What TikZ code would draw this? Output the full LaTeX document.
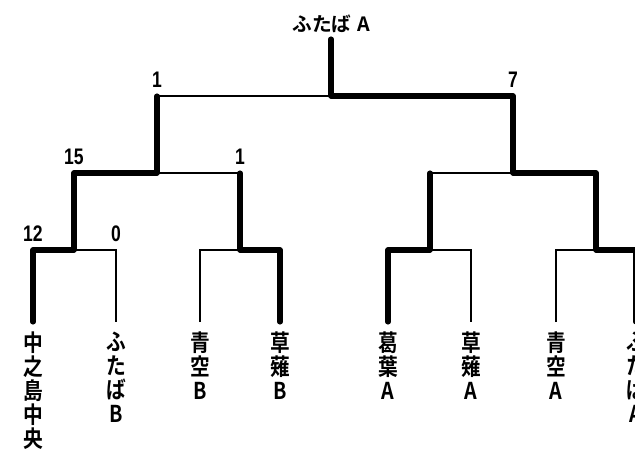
\documentclass[tikz,border=0pt]{standalone}
\usepackage{fontspec}
\usepackage{tikz}
\usetikzlibrary{positioning}
\newfontfamily\jpfont[FakeStretch=0.85]{Noto Sans CJK JP Bold}
\newfontfamily\jptitle{Noto Sans CJK JP Bold}
\newfontfamily\numfont[FakeStretch=0.78]{Liberation Sans Bold}

\begin{document}
\begin{tikzpicture}[x=0.025cm, y=-0.025cm,
                    win/.style={line width=3.6pt, line cap=round, line join=round},
                    lose/.style={line width=1.1pt},
                    team/.style={inner sep=0pt, align=center, font=\jpfont\fontsize{16.5}{17}\selectfont},
                    score/.style={inner sep=0pt, font=\numfont\fontsize{16}{16}\selectfont}]
                    \useasboundingbox (0,0) rectangle (635,451);
                    % leaf corners and ends
                    \foreach \i/\x in {1/33, 2/116, 3/200, 4/280, 5/388, 6/471, 7/556, 8/636} {
                        \coordinate (c\i) at (\x,250);
                        \coordinate (e\i) at (\x,322);
                    }
                    \coordinate (m1) at (74,250);
                    \coordinate (m2) at (240,250);
                    \coordinate (m3) at (430,250);
                    \coordinate (m4) at (596,250);
                    \coordinate (d1) at (74,173);
                    \coordinate (d2) at (240,173);
                    \coordinate (d3) at (430,173);
                    \coordinate (d4) at (596,173);
                    \coordinate (n1) at (157,173);
                    \coordinate (n2) at (513,173);
                    \coordinate (g1) at (157,96);
                    \coordinate (g2) at (513,96);
                    \coordinate (f) at (331,96);
                    \coordinate (top) at (331,39);
                    % teams
                    \node[team, below=7pt of e1] (t1) {中\\之\\島\\中\\央};
                    \node[team, below=7pt of e2] (t2) {ふ\\た\\ば\\B};
                    \node[team, below=7pt of e3] (t3) {青\\空\\B};
                    \node[team, below=7pt of e4] (t4) {草\\薙\\B};
                    \node[team, below=7pt of e5] (t5) {葛\\葉\\A};
                    \node[team, below=7pt of e6] (t6) {草\\薙\\A};
                    \node[team, below=7pt of e7] (t7) {青\\空\\A};
                    \node[team, below=7pt of e8] (t8) {ふ\\た\\ば\\A};
                    \node[inner sep=0pt, above=4pt of top, font=\jptitle\fontsize{14}{16}\selectfont] (champ) {ふたば\hspace{4pt}A};
                    % first round
                    \draw[lose] (m1) -- (c2) -- (e2);
                    \draw[lose] (e3) -- (c3) -- (m2);
                    \draw[lose] (m3) -- (c6) -- (e6);
                    \draw[lose] (e7) -- (c7) -- (m4);
                    \draw[win] (e1) -- (c1) -- (m1);
                    \draw[win] (m2) -- (c4) -- (e4);
                    \draw[win] (e5) -- (c5) -- (m3);
                    \draw[win] (m4) -- (c8) -- (e8);
                    % second round
                    \draw[lose] (n1) -- (d2);
                    \draw[lose] (d3) -- (n2);
                    \draw[win] (m1) -- (d1) -- (n1);
                    \draw[win] (m2) -- (d2);
                    \draw[win] (m3) -- (d3);
                    \draw[win] (m4) -- (d4) -- (n2);
                    % final
                    \draw[lose] (g1) -- (f);
                    \draw[win] (n1) -- (g1);
                    \draw[win] (n2) -- (g2) -- (f);
                    \draw[win] (f) -- (top);
                    % scores
                    \node[score, above=6pt of c1] (s1) {12};
                    \node[score, above=6pt of c2] (s2) {0};
                    \node[score, above=6pt of d1] (s3) {15};
                    \node[score, above=6pt of d2] (s4) {1};
                    \node[score, above=6pt of g1] (s5) {1};
                    \node[score, above=6pt of g2] (s6) {7};
                \end{tikzpicture}
\end{document}
